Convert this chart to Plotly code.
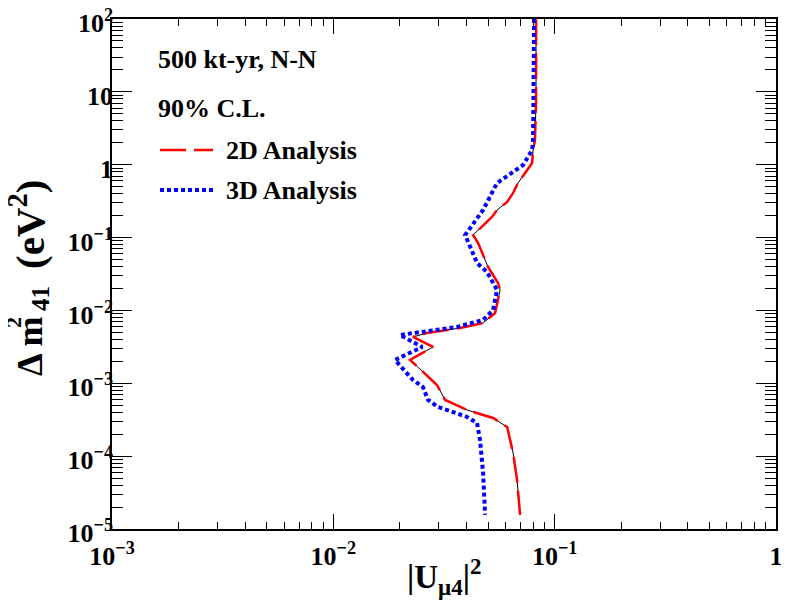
import plotly.graph_objects as go

# sensitivity contours
# 2D analysis
dm2_2d = [100, 7.73, 2.18, 1.59, 1.056, 0.561, 0.409, 0.308, 0.239, 0.1916,
          0.1085, 0.0842, 0.0395, 0.0238, 0.0191, 0.00922, 0.00672, 0.00574, 0.00490, 0.00432,
          0.00315, 0.00209, 0.00167, 0.000948, 0.000590, 0.000430, 0.000334, 0.000251, 0.0001105, 4.71e-5,
          1.56e-5]
u_2d = [0.0824, 0.0824, 0.0815, 0.0799, 0.0791, 0.0683, 0.0649, 0.0610, 0.0549, 0.0521,
        0.0428, 0.0451, 0.0500, 0.0555, 0.0567, 0.0538, 0.0475, 0.0374, 0.0265, 0.0229,
        0.0282, 0.0222, 0.0241, 0.0294, 0.0320, 0.0402, 0.0527, 0.0610, 0.0649, 0.0676,
        0.0698]

# 3D analysis
dm2_3d = [100, 7.73, 2.18, 1.59, 0.991, 0.561, 0.239, 0.1085, 0.0448, 0.0337,
          0.0191, 0.01014, 0.00739, 0.00593, 0.00460, 0.00315, 0.00209, 0.00111, 0.000889, 0.000590,
          0.000473, 0.000345, 0.000285, 0.000167, 5.87e-5, 1.56e-5]
u_3d = [0.0807, 0.0807, 0.0799, 0.0791, 0.0720, 0.0549, 0.0475, 0.0394, 0.0446, 0.0495,
        0.0549, 0.0527, 0.0475, 0.0362, 0.0200, 0.0252, 0.0190, 0.0229, 0.0254, 0.0268,
        0.0297, 0.0402, 0.0446, 0.0460, 0.0475, 0.0485]

xtickvals = [1e-3, 1e-2, 1e-1, 1]
xticktext = ["10<sup>\u22123</sup>", "10<sup>\u22122</sup>", "10<sup>\u22121</sup>", "1"]
ytickvals = [1e-5, 1e-4, 1e-3, 1e-2, 1e-1, 1, 10, 100]
yticktext = ["10<sup>\u22125</sup>", "10<sup>\u22124</sup>", "10<sup>\u22123</sup>", "10<sup>\u22122</sup>",
             "10<sup>\u22121</sup>", "1", "10", "10<sup>2</sup>"]

serif = "Liberation Serif"
red_dash = "26px,8px"
blue_dot = "4px,3px"

fig = go.Figure()
fig.add_trace(go.Scatter(x=u_2d, y=dm2_2d, mode="lines",
                         line=dict(color="black", width=1), showlegend=False))
fig.add_trace(go.Scatter(x=u_2d, y=dm2_2d, mode="lines", name="2D Analysis",
                         line=dict(color="#ff0000", width=2.5, dash=red_dash), showlegend=False))
fig.add_trace(go.Scatter(x=u_3d, y=dm2_3d, mode="lines", name="3D Analysis",
                         line=dict(color="#0000ff", width=4, dash=blue_dot), showlegend=False))

axis_common = dict(type="log", showgrid=False, zeroline=False, showline=True,
                   linecolor="black", linewidth=1.5, mirror="ticks", ticks="inside",
                   tickcolor="black", tickwidth=1.2, tickmode="array", automargin=False,
                   ticklabeloverflow="allow",
                   tickfont=dict(family=serif, size=26, color="black", weight="bold"))

fig.update_xaxes(axis_common, range=[-3, 0], tickvals=xtickvals, ticktext=xticktext,
                 ticklen=15, ticklabelstandoff=3,
                 minor=dict(ticks="inside", ticklen=7, dtick="D1", tickcolor="black",
                            tickwidth=1, showgrid=False))
fig.update_yaxes(axis_common, range=[-5, 2], tickvals=ytickvals, ticktext=yticktext,
                 ticklen=20, ticklabelstandoff=-8, ticklabelshift=4,
                 minor=dict(ticks="inside", ticklen=11, dtick="D1", tickcolor="black",
                            tickwidth=1, showgrid=False))

# the page body adds 8px, so the figure is a bit smaller than the window
OFF = 8
W, H = 789 - OFF, 610 - OFF
plot_l, plot_r, plot_t, plot_b = 112, 776, 19, 529  # frame in window pixels
L, T = plot_l - OFF, plot_t - OFF
R, B = W - (plot_r - OFF), H - (plot_b - OFF)
pw, ph = plot_r - plot_l, plot_b - plot_t


def px(x):
    return (x - plot_l) / pw


def py(y):
    return (plot_b - y) / ph


txt = dict(family=serif, size=26, color="black", weight="bold")
bold = dict(family=serif, color="black", weight="bold")
ann = [
    dict(text="500 kt-yr, N-N", x=px(156), y=py(59), xanchor="left", font=txt),
    dict(text="90% C.L.", x=px(156), y=py(108), xanchor="left", font=txt),
    dict(text="2D Analysis", x=px(224), y=py(150), xanchor="left", font=txt),
    dict(text="3D Analysis", x=px(224), y=py(190), xanchor="left", font=txt),
    # x title
    dict(text="|U<sub>\u03bc4</sub>|<sup>2</sup>", x=px(444), y=py(576), xanchor="center",
         font=dict(bold, size=33)),
    # y title, pieces so the super/subscripts stack
    dict(text="\u0394 m", x=px(30), y=py(346), textangle=-90, font=dict(bold, size=36)),
    dict(text="2", x=px(13), y=py(323), textangle=-90, font=dict(bold, size=22)),
    dict(text="41", x=px(40), y=py(299), textangle=-90, font=dict(bold, size=25)),
    dict(text="(eV<sup>2</sup>)", x=px(27), y=py(225), textangle=-90, font=dict(bold, size=41)),
]
for a in ann:
    a.update(xref="paper", yref="paper", showarrow=False, yanchor="middle")
    a.setdefault("xanchor", "center")

shapes = [
    dict(type="line", xref="paper", yref="paper", x0=px(160), x1=px(213), y0=py(150), y1=py(150),
         line=dict(color="#ff0000", width=2.5, dash=red_dash)),
    dict(type="line", xref="paper", yref="paper", x0=px(160), x1=px(213), y0=py(190), y1=py(190),
         line=dict(color="#0000ff", width=4, dash=blue_dot)),
]

fig.update_layout(width=W, height=H, margin=dict(l=L, r=R, t=T, b=B, autoexpand=False),
                  plot_bgcolor="white", paper_bgcolor="white",
                  annotations=ann, shapes=shapes, showlegend=False)

fig.write_html("out.html")
